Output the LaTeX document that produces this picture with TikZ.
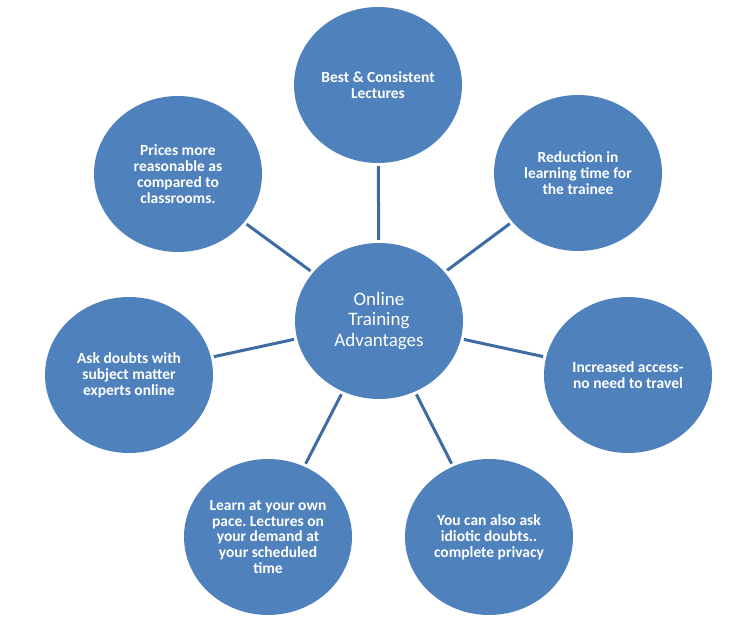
\documentclass[tikz,border=0pt]{standalone}
\usepackage{fontspec}
\setmainfont{Carlito}
\usetikzlibrary{shapes.geometric}
\definecolor{circfill}{HTML}{4F81BD}
\definecolor{linkcol}{HTML}{3D6CA3}
\tikzset{
  bubble/.style={ellipse, fill=circfill, minimum width=168pt, minimum height=156pt,
    inner sep=0pt, text=white, align=center, font=\fontsize{15.5}{15.8}\selectfont\bfseries},
  hub/.style={bubble, font=\fontsize{19}{20.5}\selectfont},
  link/.style={draw=linkcol, line width=3pt, shorten >=3pt, shorten <=3pt}
}
\begin{document}
\frenchspacing
\begin{tikzpicture}[x=1pt,y=-1pt]
\useasboundingbox (0,0) rectangle (755,617);
\node[hub] (c) at (379,321) {Online\\Training\\Advantages};
\node[bubble] (t) at (378,85) {Best \& Consistent\\Lectures};
\node[bubble] (ul) at (178,174) {Prices more\\reasonable as\\compared to\\classrooms.};
\node[bubble] (ur) at (578,173) {Reduction in\\learning time for\\the trainee};
\node[bubble] (l) at (129,375) {Ask doubts with\\subject matter\\experts online};
\node[bubble] (r) at (628,375) {Increased access-\\no need to travel};
\node[bubble] (bl) at (268,537) {Learn at your own\\pace. Lectures on\\your demand at\\your scheduled\\time};
\node[bubble] (br) at (489,537) {You can also ask\\idiotic doubts..\\complete privacy};
\foreach \n in {t,ul,ur,l,r,bl,br} \draw[link] (c) -- (\n);
\end{tikzpicture}
\end{document}
